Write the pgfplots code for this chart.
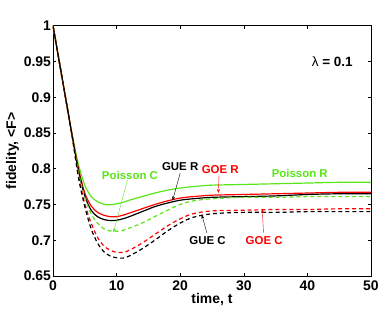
\documentclass[border=0pt]{standalone}
\usepackage{pgfplots}
\pgfplotsset{compat=1.18}
\usepackage{pgfplotstable}
\usepackage{fontspec}
\setmainfont{Liberation Sans}
\usetikzlibrary{arrows.meta}
\definecolor{pgreen}{rgb}{0.35,0.9,0.1}

\pgfplotstableread{
t PR GOER GUER PC GOEC GUEC
0 1.000 1.000 1.000 1.000 1.000 1.000
1 0.949 0.949 0.949 0.949 0.949 0.949
2 0.898 0.898 0.898 0.898 0.898 0.898
3 0.848 0.847 0.847 0.847 0.846 0.846
4 0.806 0.800 0.798 0.795 0.790 0.788
5 0.777 0.766 0.762 0.760 0.751 0.747
6 0.761 0.748 0.742 0.737 0.724 0.716
7 0.754 0.739 0.733 0.724 0.704 0.696
8 0.7505 0.735 0.729 0.716 0.692 0.684
9 0.7495 0.733 0.7275 0.713 0.686 0.678
10 0.751 0.733 0.728 0.7125 0.683 0.6755
11 0.753 0.735 0.730 0.714 0.683 0.675
12 0.756 0.738 0.733 0.717 0.686 0.678
14 0.761 0.744 0.740 0.724 0.696 0.688
16 0.766 0.750 0.747 0.733 0.708 0.700
18 0.770 0.755 0.752 0.742 0.720 0.713
20 0.773 0.759 0.756 0.750 0.730 0.724
22 0.775 0.761 0.758 0.755 0.737 0.732
25 0.777 0.763 0.760 0.758 0.741 0.737
30 0.778 0.764 0.761 0.760 0.742 0.739
35 0.779 0.765 0.762 0.760 0.743 0.739
40 0.780 0.766 0.764 0.761 0.743 0.740
45 0.781 0.767 0.765 0.761 0.744 0.740
50 0.781 0.767 0.765 0.761 0.744 0.740
}\data

\begin{document}
\begin{tikzpicture}
\begin{axis}[name=ax, scale only axis, width=318bp, height=250.3bp,
  xmin=0, xmax=50, ymin=0.65, ymax=1,
  xtick={0,10,20,30,40,50},
  xticklabels={0,10,20,30,40,50},
  ytick={0.65,0.7,0.75,0.8,0.85,0.9,0.95,1},
  yticklabels={0.65,0.7,0.75,0.8,0.85,0.9,0.95,1},
  tick align=inside, major tick length=3bp,
  axis line style={line width=1pt},
  every tick/.style={black, line width=0.6pt},
  tick label style={font=\bfseries\fontsize{14}{14}\selectfont},
  label style={font=\bfseries\fontsize{14}{15}\selectfont},
  xlabel={time, t}, ylabel={fidelity, <F>},
  yticklabel style={xshift=1.5bp},
  xticklabel style={yshift=-1bp},
  xlabel style={yshift=4bp},
  ylabel style={yshift=-2bp},
  every axis plot/.append style={line width=1.2pt, smooth, tension=0.5},
]
\addplot[pgreen] table[x=t,y=PR]{\data};
\addplot[red] table[x=t,y=GOER]{\data};
\addplot[black] table[x=t,y=GUER]{\data};
\addplot[pgreen, dash pattern=on 4pt off 3pt] table[x=t,y=PC]{\data};
\addplot[red, dash pattern=on 4pt off 3pt] table[x=t,y=GOEC]{\data};
\addplot[black, dash pattern=on 4pt off 3pt] table[x=t,y=GUEC]{\data};

\begin{scope}[font=\bfseries\fontsize{11.5}{12}\selectfont]
\node[pgreen] at (axis cs:38.8,0.7935) {Poisson R};
\node[red] at (axis cs:26.3,0.799) {GOE R};
\node[black] at (axis cs:20,0.803) {GUE R};
\node[pgreen] at (axis cs:12.1,0.791) {Poisson C};
\node[black] at (axis cs:24.3,0.700) {GUE C};
\node[red] at (axis cs:33.2,0.700) {GOE C};
\node[black, font=\bfseries\fontsize{13.5}{14}\selectfont] at (axis cs:43.9,0.9497) {{\mdseries λ} = 0.1};
\end{scope}
\draw[red, line width=0.4pt, -{Stealth[length=4pt,width=3pt]}] (axis cs:26.1,0.791) -- (axis cs:26,0.766);
\draw[black, line width=0.4pt, -{Stealth[length=4pt,width=3pt]}] (axis cs:20,0.794) -- (axis cs:18.8,0.7556);
\draw[pgreen, line width=0.4pt, -{Stealth[length=4pt,width=3pt]}] (axis cs:11.7,0.784) -- (axis cs:9.5,0.711);
\draw[black, line width=0.4pt, -{Stealth[length=4pt,width=3pt]}] (axis cs:24.2,0.710) -- (axis cs:23.4,0.7357);
\draw[red, line width=0.4pt, -{Stealth[length=4pt,width=3pt]}] (axis cs:33.1,0.710) -- (axis cs:32.9,0.7436);
\end{axis}
\pgfresetboundingbox
\path ([xshift=-53bp,yshift=-35bp]ax.south west) rectangle ([xshift=11bp,yshift=25.7bp]ax.north east);
\end{tikzpicture}
\end{document}
